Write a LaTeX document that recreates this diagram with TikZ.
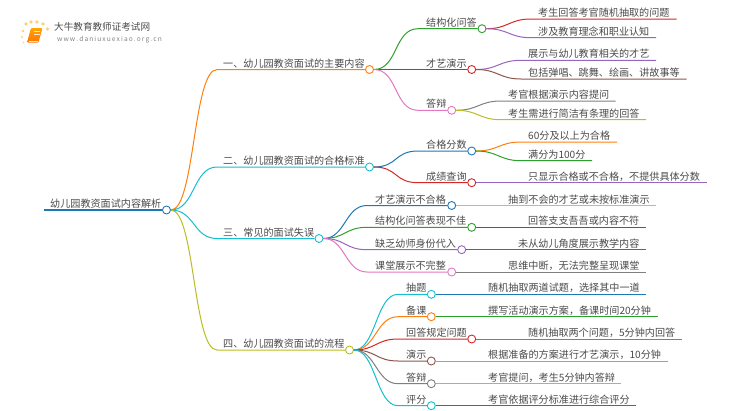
\documentclass[tikz,border=0pt]{standalone}
\usepackage{fontspec}
\setmainfont{Noto Sans CJK SC}
\definecolor{tabblue}{HTML}{1F77B4}
\definecolor{taborange}{HTML}{FF7F0E}
\definecolor{tabgreen}{HTML}{2CA02C}
\definecolor{tabred}{HTML}{D62728}
\definecolor{tabpurple}{HTML}{9467BD}
\definecolor{tabbrown}{HTML}{8C564B}
\definecolor{tabpink}{HTML}{E377C2}
\definecolor{tabgray}{HTML}{7F7F7F}
\definecolor{tabolive}{HTML}{BCBD22}
\definecolor{tabcyan}{HTML}{17BECF}
\definecolor{inktext}{HTML}{4A4A4A}
\definecolor{logodot}{HTML}{FBD27A}
\tikzset{
  txt/.style={anchor=base west,inner sep=0pt,yshift=-1pt,text=inktext,font=\fontsize{10.1}{12}\selectfont},
  dot/.style={circle,draw,fill=white,line width=0.9pt,inner sep=0pt,minimum size=8pt},
  link/.style={line width=1pt},
  spark/.style={circle,fill=logodot,inner sep=0pt,minimum size=3.6pt}
}
\begin{document}
\begin{tikzpicture}[x=1pt,y=-1pt]
    \useasboundingbox (0,0) rectangle (750,410);
    % logo
    \node [spark] (s1) at (26,24) {};
    \node [spark] (s2) at (31,22) {};
    \node [spark] (s3) at (37,22) {};
    \node [spark] (s4) at (43,24) {};
    \node [spark] (s5) at (47.5,29) {};
    \node [spark,minimum size=2.6pt] (s6) at (23,31) {};
    \node [spark,minimum size=2.2pt] (s7) at (22,37) {};
    \node [spark,minimum size=1.6pt] (s8) at (23.5,42.5) {};
    \shade [top color=orange!70!yellow,bottom color=orange!90!red,rounded corners=1pt] (31,28) -- (42.5,28) -- (38.5,42.5) -- (27,42.5) -- cycle;
    \draw [white!80!orange,line width=0.5pt] (34,31.5) -- (40,31.5);
    \draw [white!80!orange,line width=0.5pt] (33.5,34) -- (39.5,34);
    \draw [white!80!orange,line width=0.5pt] (28.5,41) -- (37.5,41);
    \node [anchor=base west,inner sep=0pt,text=inktext,font=\fontsize{9.6}{11}\selectfont] (logo) at (54,30.5) {大牛教育教师证考试网};
    \node [anchor=base west,inner sep=0pt,text=gray,font=\fontsize{6.6}{7}\selectfont] (site) at (57,41.2) {w\,w\,w\,.\,d\,a\,n\,i\,u\,x\,u\,e\,x\,i\,a\,o\,.\,o\,r\,g\,.\,c\,n};
    % root
    \node [txt] (rootT) at (50,206.3) {幼儿园教资面试内容解析};
    \node [dot,draw=tabblue] (root) at (166.5,210) {};
    \coordinate (rootS) at (44,210);
    \draw [tabblue,line width=1.3pt] (rootS) -- (root.west);
    % first level
    \node [txt] (oneT) at (223,66) {一、幼儿园教资面试的主要内容};
    \node [dot,draw=taborange] (one) at (369.5,69.5) {};
    \coordinate (oneS) at (217,69.5);
    \node [txt] (twoT) at (223,163.5) {二、幼儿园教资面试的合格标准};
    \node [dot,draw=tabcyan] (two) at (369.5,167) {};
    \coordinate (twoS) at (217,167);
    \node [txt] (threeT) at (223,235) {三、常见的面试失误};
    \node [dot,draw=tabcyan] (three) at (319,238.5) {};
    \coordinate (threeS) at (217,238.5);
    \node [txt] (fourT) at (223,346.5) {四、幼儿园教资面试的流程};
    \node [dot,draw=tabolive] (four) at (349.5,350) {};
    \coordinate (fourS) at (217,350);
    \draw [taborange,link] (root.east) .. controls +(24,0) and +(-24,0) .. (oneS) -- (one.west);
    \draw [tabcyan,link] (root.east) .. controls +(24,0) and +(-24,0) .. (twoS) -- (two.west);
    \draw [tabcyan,link] (root.east) .. controls +(24,0) and +(-24,0) .. (threeS) -- (three.west);
    \draw [tabolive,link] (root.east) .. controls +(24,0) and +(-24,0) .. (fourS) -- (four.west);
    % second level
    \node [txt] (a1T) at (426,25.2) {结构化问答};
    \node [dot,draw=tabgreen] (a1) at (482,28.7) {};
    \coordinate (a1S) at (418,28.7);
    \node [txt] (a2T) at (426,66) {才艺演示};
    \node [dot,draw=tabred] (a2) at (471.7,69.5) {};
    \coordinate (a2S) at (418,69.5);
    \node [txt] (a3T) at (426,106.8) {答辩};
    \node [dot,draw=tabpink] (a3) at (451.7,110.3) {};
    \coordinate (a3S) at (418,110.3);
    \draw [tabgreen,link] (one.east) .. controls +(24,0) and +(-24,0) .. (a1S) -- (a1.west);
    \draw [tabred,link] (one.east) -- (a2.west);
    \draw [tabpink,link] (one.east) .. controls +(24,0) and +(-24,0) .. (a3S) -- (a3.west);
    \node [txt] (b1T) at (426,147.5) {合格分数};
    \node [dot,draw=tabblue] (b1) at (471.7,151) {};
    \coordinate (b1S) at (418,151);
    \node [txt] (b2T) at (426,179.2) {成绩查询};
    \node [dot,draw=tabred] (b2) at (471.7,182.7) {};
    \coordinate (b2S) at (418,182.7);
    \draw [tabblue,link] (two.east) .. controls +(24,0) and +(-24,0) .. (b1S) -- (b1.west);
    \draw [tabred,link] (two.east) .. controls +(24,0) and +(-24,0) .. (b2S) -- (b2.west);
    \node [txt] (c1T) at (375,202) {才艺演示不合格};
    \node [dot,draw=tabblue] (c1) at (451.7,205.5) {};
    \coordinate (c1S) at (367,205.5);
    \node [txt] (c2T) at (375,223.8) {结构化问答表现不佳};
    \node [dot,draw=tabgreen] (c2) at (471.7,227.3) {};
    \coordinate (c2S) at (367,227.3);
    \node [txt] (c3T) at (375,246.2) {缺乏幼师身份代入};
    \node [dot,draw=tabpurple] (c3) at (461.7,249.7) {};
    \coordinate (c3S) at (367,249.7);
    \node [txt] (c4T) at (375,268.5) {课堂展示不完整};
    \node [dot,draw=tabpink] (c4) at (451.7,272) {};
    \coordinate (c4S) at (367,272);
    \draw [tabblue,link] (three.east) .. controls +(22,0) and +(-22,0) .. (c1S) -- (c1.west);
    \draw [tabgreen,link] (three.east) .. controls +(22,0) and +(-22,0) .. (c2S) -- (c2.west);
    \draw [tabpurple,link] (three.east) .. controls +(22,0) and +(-22,0) .. (c3S) -- (c3.west);
    \draw [tabpink,link] (three.east) .. controls +(22,0) and +(-22,0) .. (c4S) -- (c4.west);
    \node [txt] (d1T) at (406,290.8) {抽题};
    \node [dot,draw=tabcyan] (d1) at (431.3,294.3) {};
    \coordinate (d1S) at (398,294.3);
    \node [txt] (d2T) at (406,313.2) {备课};
    \node [dot,draw=taborange] (d2) at (431.3,316.7) {};
    \coordinate (d2S) at (398,316.7);
    \node [txt] (d3T) at (406,335.5) {回答规定问题};
    \node [dot,draw=tabred] (d3) at (471.7,339) {};
    \coordinate (d3S) at (398,339);
    \node [txt] (d4T) at (406,357.5) {演示};
    \node [dot,draw=tabbrown] (d4) at (431.3,361) {};
    \coordinate (d4S) at (398,361);
    \node [txt] (d5T) at (406,380.2) {答辩};
    \node [dot,draw=tabgray] (d5) at (431.3,383.7) {};
    \coordinate (d5S) at (398,383.7);
    \node [txt] (d6T) at (406,402.2) {评分};
    \node [dot,draw=tabcyan] (d6) at (431.3,405.7) {};
    \coordinate (d6S) at (398,405.7);
    \draw [tabcyan,link] (four.east) .. controls +(22,0) and +(-22,0) .. (d1S) -- (d1.west);
    \draw [taborange,link] (four.east) .. controls +(22,0) and +(-22,0) .. (d2S) -- (d2.west);
    \draw [tabred,link] (four.east) .. controls +(22,0) and +(-22,0) .. (d3S) -- (d3.west);
    \draw [tabbrown,link] (four.east) .. controls +(22,0) and +(-22,0) .. (d4S) -- (d4.west);
    \draw [tabgray,link] (four.east) .. controls +(22,0) and +(-22,0) .. (d5S) -- (d5.west);
    \draw [tabcyan,link] (four.east) .. controls +(22,0) and +(-22,0) .. (d6S) -- (d6.west);
    % third level
    \node [txt] (a11) at (538,15.5) {考生回答考官随机抽取的问题};
    \coordinate (a11S) at (531,19);
    \coordinate (a11E) at (676.7,19);
    \node [txt] (a12) at (538,34.2) {涉及教育理念和职业认知};
    \coordinate (a12S) at (531,37.7);
    \coordinate (a12E) at (656,37.7);
    \draw [tabred,link] (a1.east) .. controls +(22,0) and +(-22,0) .. (a11S) -- (a11E);
    \draw [tabpurple,link] (a1.east) .. controls +(22,0) and +(-22,0) .. (a12S) -- (a12E);
    \node [txt] (a21) at (528,56.8) {展示与幼儿教育相关的才艺};
    \coordinate (a21S) at (521,60.3);
    \coordinate (a21E) at (656,60.3);
    \node [txt] (a22) at (528,75.5) {包括弹唱、跳舞、绘画、讲故事等};
    \coordinate (a22S) at (521,79);
    \coordinate (a22E) at (686.7,79);
    \draw [tabpurple,link] (a2.east) .. controls +(22,0) and +(-22,0) .. (a21S) -- (a21E);
    \draw [tabbrown,link] (a2.east) .. controls +(22,0) and +(-22,0) .. (a22S) -- (a22E);
    \node [txt] (a31) at (508,97.5) {考官根据演示内容提问};
    \coordinate (a31S) at (501,101);
    \coordinate (a31E) at (615.7,101);
    \node [txt] (a32) at (508,116.2) {考生需进行简洁有条理的回答};
    \coordinate (a32S) at (501,119.7);
    \coordinate (a32E) at (646,119.7);
    \draw [tabgray,link] (a3.east) .. controls +(22,0) and +(-22,0) .. (a31S) -- (a31E);
    \draw [tabolive,link] (a3.east) .. controls +(22,0) and +(-22,0) .. (a32S) -- (a32E);
    \node [txt] (b11) at (528,138.5) {60分及以上为合格};
    \coordinate (b11S) at (521,142);
    \coordinate (b11E) at (617,142);
    \node [txt] (b12) at (528,157.2) {满分为100分};
    \coordinate (b12S) at (521,160.7);
    \coordinate (b12E) at (592,160.7);
    \draw [taborange,link] (b1.east) .. controls +(22,0) and +(-22,0) .. (b11S) -- (b11E);
    \draw [tabgreen,link] (b1.east) .. controls +(22,0) and +(-22,0) .. (b12S) -- (b12E);
    \node [txt] (b21) at (528,179.2) {只显示合格或不合格，不提供具体分数};
    \coordinate (b21E) at (707,182.7);
    \draw [tabpurple,link] (b2.east) -- (b21E);
    \node [txt] (c11) at (508,202) {抽到不会的才艺或未按标准演示};
    \coordinate (c11E) at (656,205.5);
    \draw [taborange!70,link] (c1.east) -- (c11E);
    \node [txt] (c21) at (528,223.8) {回答支支吾吾或内容不符};
    \coordinate (c21E) at (646,227.3);
    \draw [tabred,link] (c2.east) -- (c21E);
    \node [txt] (c31) at (518,246.2) {未从幼儿角度展示教学内容};
    \coordinate (c31E) at (646,249.7);
    \draw [tabbrown,link] (c3.east) -- (c31E);
    \node [txt] (c41) at (508,268.5) {思维中断，无法完整呈现课堂};
    \coordinate (c41E) at (646,272);
    \draw [tabgray,link] (c4.east) -- (c41E);
    \node [txt] (d11) at (488,290.8) {随机抽取两道试题，选择其中一道};
    \coordinate (d11E) at (646,294.3);
    \draw [tabblue,link] (d1.east) -- (d11E);
    \node [txt] (d21) at (488,313.2) {撰写活动演示方案，备课时间20分钟};
    \coordinate (d21E) at (657.7,316.7);
    \draw [tabgreen,link] (d2.east) -- (d21E);
    \node [txt] (d31) at (528,335.5) {随机抽取两个问题，5分钟内回答};
    \coordinate (d31E) at (682,339);
    \draw [tabpurple,link] (d3.east) -- (d31E);
    \node [txt] (d41) at (488,357.5) {根据准备的方案进行才艺演示，10分钟};
    \coordinate (d41E) at (667.7,361);
    \draw [tabpink,link] (d4.east) -- (d41E);
    \node [txt] (d51) at (488,380.2) {考官提问，考生5分钟内答辩};
    \coordinate (d51E) at (621,383.7);
    \draw [tabolive,link] (d5.east) -- (d51E);
    \node [txt] (d61) at (488,402.2) {考官依据评分标准进行综合评分};
    \coordinate (d61E) at (636,405.7);
    \draw [tabblue,link] (d6.east) -- (d61E);
\end{tikzpicture}
\end{document}
